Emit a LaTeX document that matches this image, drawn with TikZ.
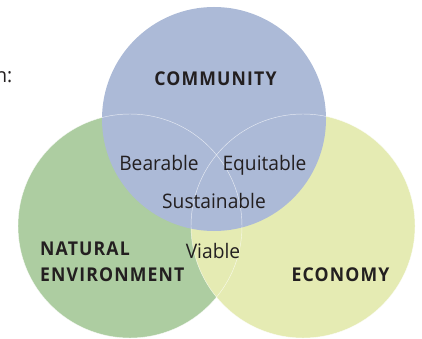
\documentclass[tikz,border=0pt]{standalone}
\usepackage{fontspec}
\setmainfont{Open Sans}[FakeStretch=0.96]
\newfontfamily\labfont{Open Sans}[FakeStretch=0.93, LetterSpace=6]
\definecolor{commblue}{HTML}{ACBAD7}
\definecolor{envgreen}{HTML}{ADCDA1}
\definecolor{ecoyellow}{HTML}{E5EBB3}
\definecolor{txt}{HTML}{231F20}
\tikzset{
  venn/.style={circle, minimum size=224pt, inner sep=0pt, draw=none},
  outline/.style={draw=white, line width=0.45pt, draw opacity=0.7},
  smalllab/.style={font=\fontsize{20}{24}\selectfont, text=txt, inner sep=0pt, anchor=base},
  biglab/.style={font=\labfont\bfseries\fontsize{19}{26}\selectfont, text=txt, inner sep=0pt}
}
\begin{document}
\begin{tikzpicture}[x=1pt, y=-1pt]
\useasboundingbox[fill=white] (0,0) rectangle (422,339);
% circles
\node[venn, fill=envgreen] (env) at (130,226) {};
\node[venn, fill=ecoyellow] (eco) at (303,226) {};
\node[venn, fill=commblue] (comm) at (214,119) {};
% faint outlines of the lower circles
\draw[outline] (env) circle[radius=112pt];
\draw[outline] (eco) circle[radius=112pt];
% cut-off text at the left
\node[smalllab, anchor=base east] (cut) at (12.5,83) {n:};
% main labels
\node[biglab, anchor=base] (commlab) at (215.5,86) {COMMUNITY};
\node[biglab, anchor=base west, align=left] (envlab) at (40,281) {NATURAL\\ENVIRONMENT};
\node[biglab, anchor=base] (ecolab) at (340.5,281) {ECONOMY};
% overlap labels
\node[smalllab] (bear) at (159,170) {Bearable};
\node[smalllab] (equi) at (264.5,170) {Equitable};
\node[smalllab] (sust) at (214,208) {Sustainable};
\node[smalllab] (via) at (213,258) {Viable};
\end{tikzpicture}
\end{document}
